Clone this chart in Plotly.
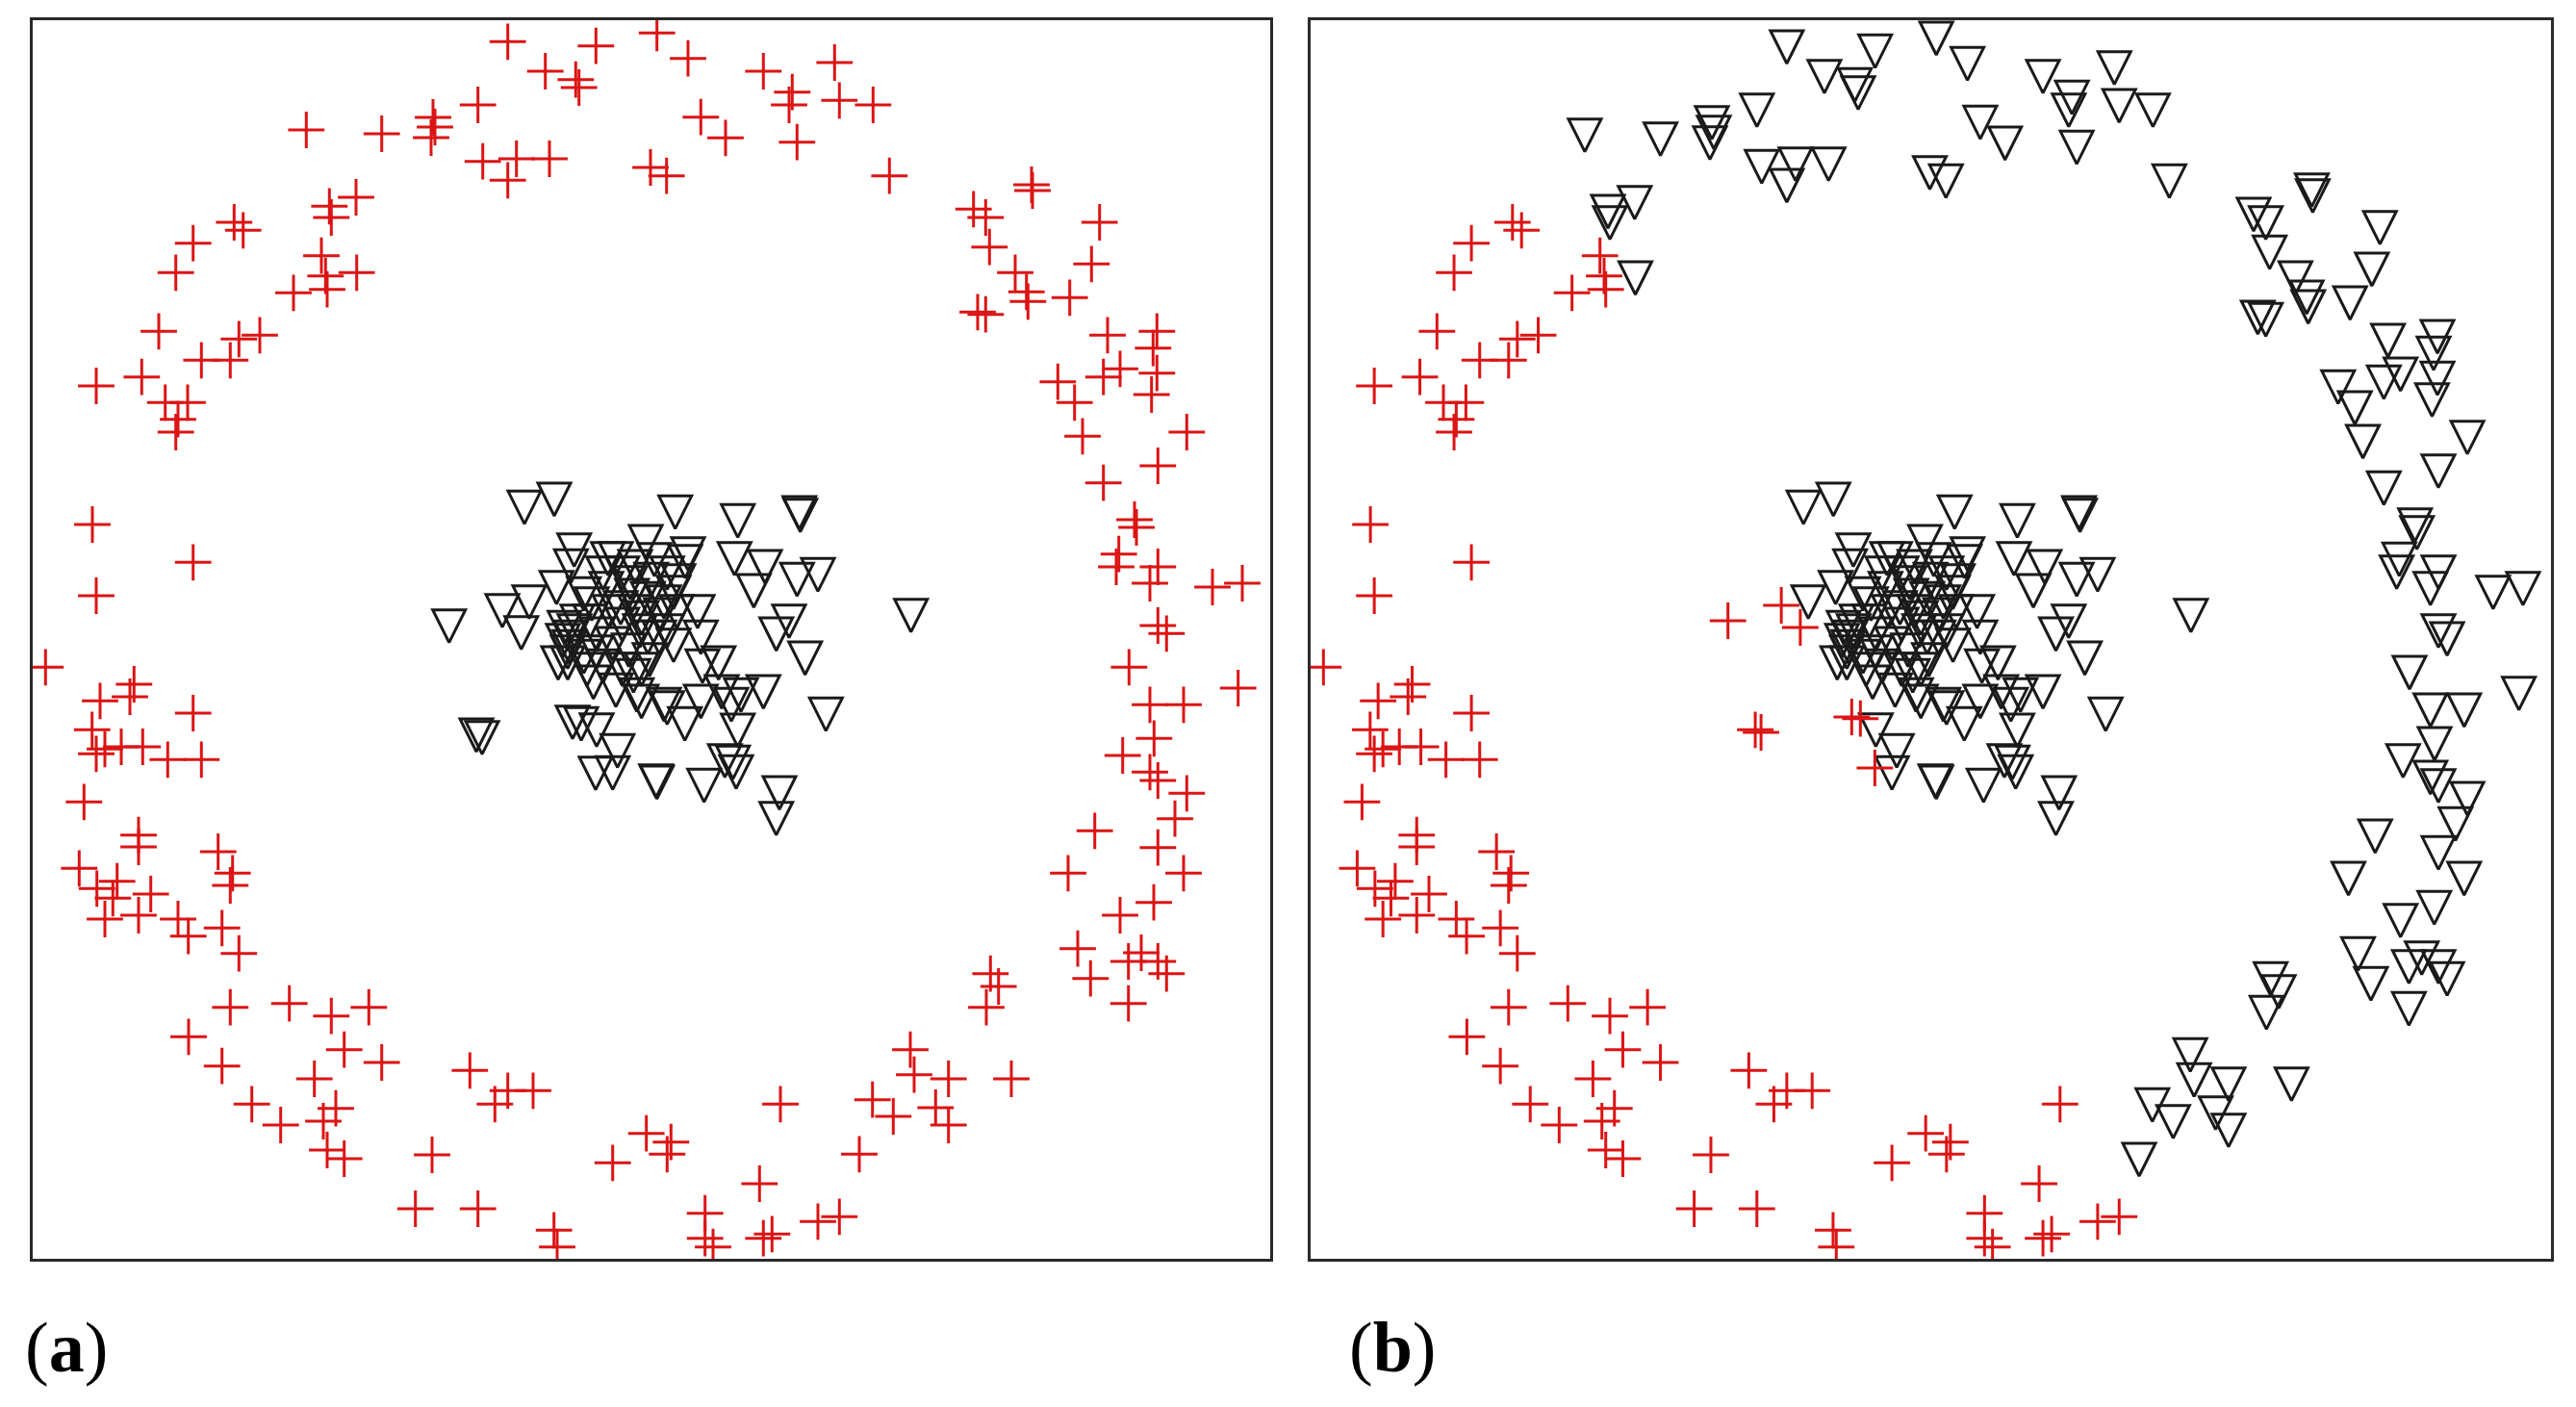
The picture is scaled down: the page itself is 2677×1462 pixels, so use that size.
import plotly.graph_objects as go

# Point positions (same units for both panels: x right, y down)
# Ring points that stay "+" in both panels
ring_left = [
    (334, 265.7), (338.3, 286.7), (340, 300.7), (305, 304.3),
    (243.3, 231), (252.7, 239.3), (200.7, 252.7), (182.7, 283.3),
    (165, 344.3), (209.3, 374.3), (239.3, 374.3), (248.3, 352.3), (270, 348.3),
    (100, 401), (147.3, 391.7),
    (171.7, 418.3), (195, 418.3), (185, 435.7), (182.7, 449),
    (96, 545), (200.7, 584.3), (100, 619), (47.3, 693.3), (139.3, 711), (135, 724),
    (104, 728.3), (200.7, 741), (95.7, 758.3), (100, 783.3), (109, 778.3), (126, 776),
    (148.3, 776), (174.3, 789.3), (209.3, 789.3), (87.3, 833.3), (144, 867.7),
    (144, 880), (226.7, 885), (241.7, 907.3), (239.3, 920), (82.3, 902.3), (121.7, 915.7),
    (117.3, 933.3), (109, 955), (156.7, 929), (144, 951), (185, 955), (195.7, 972.7),
    (100.7, 923.3), (230.7, 964.3), (248.3, 990.7), (239.3, 1046.7), (300.7, 1042.7),
    (344.3, 1055.7), (383.3, 1046.7), (196, 1077.3), (357.7, 1090.7), (396.7, 1104),
    (230.7, 1107.7), (326.7, 1121), (261.7, 1147.3), (349, 1151.7), (291.7, 1169),
    (336, 1165), (340, 1195), (357.7, 1204), (449, 1200), (431.7, 1256),
    (488.3, 1112.3), (527.7, 1133.3), (514.3, 1147.3), (554, 1133.3), (496.7, 1256),
    (575.7, 1278.3), (579, 1295.7), (636.7, 1208.3), (671.7, 1177.7), (697.3, 1186.7),
    (693.3, 1199.3), (811, 1147.3), (789.3, 1230), (732.7, 1260.7), (732.7, 1286.7),
    (741, 1295.7), (793.3, 1286.7), (802.3, 1282.3), (850, 1269.3), (872.3, 1264.3),
]

# Ring points: "+" in panel (a), triangles in panel (b)
ring_right = [
    (318.3, 135), (396.7, 139), (450, 122), (452, 132), (448, 143), (370, 205),
    (342.3, 214.3), (344.3, 226), (370.7, 283.3),
    (527.7, 43.3), (619.3, 47.7), (682.7, 34.3), (715, 60.7), (566.7, 74), (598.3, 82.7),
    (601.7, 91), (496.7, 109), (793.3, 74), (867.3, 65), (823.3, 95.7), (820, 109),
    (872.3, 104.3), (728.3, 121.7), (754, 143.3), (828.3, 147.7), (501.7, 167.7),
    (536.7, 165), (571, 165), (527.7, 187.3), (676, 174), (692.7, 182.7),
    (907.3, 109), (924.3, 182.7), (1072, 192), (1073, 198), (1011.7, 217.3), (1024.3, 226),
    (1028.3, 256.7), (1142.7, 231), (1134.3, 274.3), (1055, 283.3), (1066.7, 303.3),
    (1068.3, 313.3), (1111.7, 309.3), (1016, 324.3), (1024.3, 326.7), (1151, 348.3),
    (1202.3, 344.3), (1198.3, 361.7), (1202.3, 387.7), (1196.7, 410), (1099.3, 396.7),
    (1116.7, 418.3), (1146.7, 391.7), (1164, 383.3),
    (1125, 453.3), (1233.3, 449), (1203.3, 484), (1146.7, 501.7), (1179, 540), (1181, 548),
    (1162.7, 575.7), (1160, 589), (1203.3, 589), (1195, 606), (1260, 610), (1291, 606),
    (1203.3, 650), (1212.3, 658.3), (1173.3, 693.3), (1286.7, 715), (1195, 732.3),
    (1230, 732.3), (1199.3, 767.3), (1166.7, 785), (1195, 802.3), (1203.3, 811),
    (1233.3, 824.3), (1221, 850.7), (1137.7, 863.3), (1203.3, 880.7),
    (1110, 907.3), (1230, 907.3), (1199, 937.7), (1164, 951), (1120, 985.7), (1172.7, 999),
    (1186, 990), (1203.3, 999), (1212.3, 1011.7), (1133.3, 1016.7), (1172.7, 1042.7),
    (1029.3, 1011.7), (1037.7, 1025), (1025, 1046.7), (946, 1090.7), (950, 1116.7),
    (985.7, 1121), (1051, 1121), (906.7, 1142.7), (928.3, 1160), (972.3, 1151),
    (985.7, 1169), (893, 1199.3),
]

# Central cluster points: triangles in (a), "+" in (b)
cluster_left = [
    (466.7, 645), (522, 629), (541.7, 652), (495, 758.3), (501, 761),
    (595, 745), (604, 746.7), (619, 798),
]

# Central cluster points: triangles in both panels
cluster_main = [
    (545, 521.7), (576, 513.3), (701.7, 526.7), (766.7, 535.7), (830.7, 527.3), (831.7, 530),
    (596.7, 566), (671, 557.3), (715, 570), (763.3, 575), (795, 583.3), (828.3, 596.7),
    (850, 591.7), (783.3, 608.3), (631.7, 575), (593.3, 582.7), (578.3, 605), (606.7, 611.7),
    (550, 620), (725, 630), (728.3, 656.7), (820, 640), (806.7, 653.3), (836.7, 678.3),
    (730, 686.7), (746.7, 683.3), (685, 656.7), (593.3, 656.7), (590, 683.3), (616.7, 703.3),
    (658.3, 696.7), (728.3, 723.3), (793.3, 713.3), (770, 716.7), (858.3, 736.7), (690, 726.7),
    (620, 753), (641.7, 774.7), (636.7, 797.7), (681.7, 806), (682.7, 807.3), (731.7, 810.7),
    (761.7, 786.7), (765, 796.7), (810, 818.3), (806.7, 845), (711.7, 746.7), (766.7, 753.3),
    (661.7, 716.7), (633.3, 630),
    (646.7, 590), (660, 583.3), (676.7, 596.7), (693.3, 590), (700, 610), (673.3, 616.7),
    (656.7, 613.3), (686.7, 633.3), (666.7, 636.7), (646.7, 643.3), (693.3, 650), (673.3, 656.7),
    (620, 653.3), (636.7, 663.3), (653.3, 670), (606.7, 676.7), (626.7, 686.7), (646.7, 690),
    (666.7, 690), (610, 690), (703.3, 630), (626.7, 590), (613.3, 640), (586.7, 646.7),
    (591.7, 666.7), (666.7, 723.3), (693.3, 730), (750, 713.3), (760, 726.7), (580, 683.3),
    (640, 711.7), (753.3, 785), (946.7, 634),
    (640, 575), (655, 600), (680, 576), (705, 598), (690, 620), (665, 650), (645, 626),
    (700, 665), (615, 622), (630, 606), (675, 680), (600, 640), (585, 660), (597, 650),
    (590, 672), (712, 578), (660, 630), (620, 672),
]

panel_labels = ["(<b>a</b>)", "(<b>b</b>)"]

X_RANGE = [34, 1320]
Y_RANGE = [1308, 21]

CROSS = dict(symbol="cross-thin-open", size=27, color="#dc1414",
             line=dict(color="#dc1414", width=3))
TRI_SIZE = 34
TRI = dict(symbol="arrow-down-open", size=TRI_SIZE, color="#1a1a1a",
           standoff=TRI_SIZE * 2 / 3,
           line=dict(color="#1a1a1a", width=3))


def xs(pts):
    return [p[0] for p in pts]


def ys(pts):
    return [p[1] for p in pts]


fig = go.Figure()

# Panel (a)
tri_a = cluster_main + cluster_left
cross_a = ring_left + ring_right
fig.add_trace(go.Scatter(x=xs(tri_a), y=ys(tri_a), mode="markers", marker=TRI,
                         xaxis="x", yaxis="y", showlegend=False))
fig.add_trace(go.Scatter(x=xs(cross_a), y=ys(cross_a), mode="markers", marker=CROSS,
                         xaxis="x", yaxis="y", showlegend=False))

# Panel (b)
tri_b = cluster_main + ring_right
cross_b = ring_left + cluster_left
fig.add_trace(go.Scatter(x=xs(tri_b), y=ys(tri_b), mode="markers", marker=TRI,
                         xaxis="x2", yaxis="y2", showlegend=False))
fig.add_trace(go.Scatter(x=xs(cross_b), y=ys(cross_b), mode="markers", marker=CROSS,
                         xaxis="x2", yaxis="y2", showlegend=False))

W, H = 2677, 1462
ydom = [1 - 1308 / H, 1 - 21 / H]
ax = dict(range=X_RANGE, showgrid=False, zeroline=False, showticklabels=False,
          ticks="", showline=True, mirror=True, linecolor="#2a2a2a", linewidth=3)
ay = dict(range=Y_RANGE, showgrid=False, zeroline=False, showticklabels=False,
          ticks="", showline=True, mirror=True, linecolor="#2a2a2a", linewidth=3,
          domain=ydom)

fig.update_layout(
    width=W, height=H,
    margin=dict(l=0, r=0, t=0, b=0),
    paper_bgcolor="white", plot_bgcolor="white",
    xaxis=dict(ax, domain=[34 / W, 1320 / W]),
    yaxis=dict(ay, anchor="x"),
    xaxis2=dict(ax, domain=[1362 / W, 2651 / W], anchor="y2"),
    yaxis2=dict(ay, anchor="x2"),
    annotations=[
        dict(text=panel_labels[0], x=24 / W, y=1 - 1400 / H, xref="paper", yref="paper",
             xanchor="left", yanchor="middle", showarrow=False,
             font=dict(family="Liberation Serif", size=74, color="black")),
        dict(text=panel_labels[1], x=1400 / W, y=1 - 1400 / H, xref="paper", yref="paper",
             xanchor="left", yanchor="middle", showarrow=False,
             font=dict(family="Liberation Serif", size=74, color="black")),
    ],
)

fig.write_html("out.html", config={"displayModeBar": False},
               post_script="document.body.style.margin='0px';")
